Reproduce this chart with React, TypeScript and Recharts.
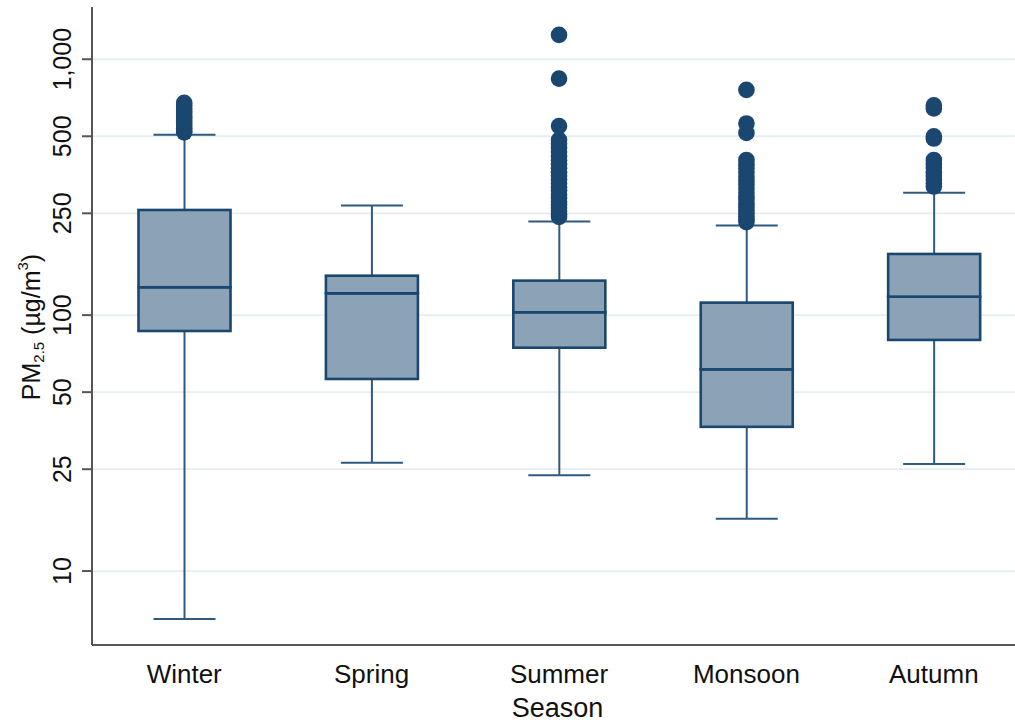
import React from 'react';
import { ComposedChart, Bar, Scatter, XAxis, YAxis, CartesianGrid, Label } from 'recharts';

// PM2.5 concentration summary by season (box plot on a log scale)
const seasons = ['Winter', 'Spring', 'Summer', 'Monsoon', 'Autumn'];
const lowerWhisker = [6.5, 26.5, 23.7, 16.0, 26.2];
const q1 = [86.7, 56.3, 74.6, 36.6, 80.0];
const median = [128.5, 121.7, 102.6, 61.4, 118.1];
const q3 = [257.6, 142.6, 136.4, 111.9, 173.4];
const upperWhisker = [507, 268, 232, 224, 301];

const winterOutliers = [518, 527, 537, 548, 560, 572, 585, 598, 612, 627, 642, 658, 675];
const springOutliers: number[] = [];
const summerOutliers = [
  242, 248, 255, 262, 270, 278, 287, 296, 306, 316, 327, 338, 350, 362, 375, 389, 403, 418, 434,
  450, 467, 484, 548, 840, 1245,
];
const monsoonOutliers = [
  231, 237, 243, 250, 257, 265, 273, 282, 291, 301, 312, 323, 335, 348, 361, 375, 389, 404, 515,
  561, 759,
];
const autumnOutliers = [318, 327, 338, 350, 362, 376, 390, 404, 490, 500, 642, 660];

const yTicks = [10, 25, 50, 100, 250, 500, 1000];
const xTicks = [1, 2, 3, 4, 5];

const NAVY = '#1A476F';
const BOX_FILL = '#8CA3B7';
const WHISKER = '#2F5A80';
const AXIS = '#555555';
const GRID = '#E6EEF0';
const FONT = '"Liberation Sans", Arial, sans-serif';

const boxRows = seasons.map((name, i) => ({
  pos: i + 1,
  name,
  lo: lowerWhisker[i],
  q1: q1[i],
  med: median[i],
  q3: q3[i],
  hi: upperWhisker[i],
}));

const outlierRows = [winterOutliers, springOutliers, summerOutliers, monsoonOutliers, autumnOutliers].flatMap(
  (list, i) => list.map((v) => ({ pos: i + 1, v })),
);

const WhiskerLow = (p: any) => {
  const { x, y, width, height } = p;
  const cx = x + width / 2;
  return (
    <g stroke={WHISKER} strokeWidth={2}>
      <line x1={cx} x2={cx} y1={y} y2={y + height} />
      <line x1={x} x2={x + width} y1={y + height} y2={y + height} />
    </g>
  );
};

const WhiskerHigh = (p: any) => {
  const { x, y, width, height } = p;
  const cx = x + width / 2;
  return (
    <g stroke={WHISKER} strokeWidth={2}>
      <line x1={cx} x2={cx} y1={y} y2={y + height} />
      <line x1={x} x2={x + width} y1={y} y2={y} />
    </g>
  );
};

const BoxHalf = (p: any) => {
  const { x, y, width, height } = p;
  return <rect x={x} y={y} width={width} height={height} fill={BOX_FILL} stroke={NAVY} strokeWidth={2.6} />;
};

const OutlierDot = (p: any) => <circle cx={p.cx} cy={p.cy} r={8.3} fill={NAVY} />;

const fmt = (v: number) => v.toLocaleString('en-US');

const YTick = (p: any) => {
  const { x, y, payload } = p;
  return (
    <text
      x={x}
      y={y}
      transform={`rotate(-90 ${x} ${y})`}
      textAnchor="middle"
      fontSize={25}
      fontFamily={FONT}
      fill="#111"
    >
      {fmt(payload.value)}
    </text>
  );
};

const XTick = (p: any) => {
  const { x, y, payload } = p;
  return (
    <text x={x} y={y + 38} textAnchor="middle" fontSize={26} fontFamily={FONT} fill="#111">
      {seasons[payload.value - 1]}
    </text>
  );
};

const SeasonTitle = (p: any) => {
  const vb = p.viewBox || { x: 0, y: 0, width: 0, height: 0 };
  return (
    <text x={vb.x + vb.width / 2 + 4} y={vb.y + 72} textAnchor="middle" fontSize={27} fontFamily={FONT} fill="#111">
      Season
    </text>
  );
};

const PmTitle = (p: any) => {
  const vb = p.viewBox || { x: 0, y: 0, width: 0, height: 0 };
  const bx = vb.x + 40;
  const cy = vb.y + vb.height / 2 + 1;
  return (
    <text
      x={bx}
      y={cy}
      transform={`rotate(-90 ${bx} ${cy})`}
      textAnchor="middle"
      fontSize={25}
      fontFamily={FONT}
      fill="#111"
    >
      <tspan>PM</tspan>
      <tspan fontSize={15} dy={4}>2.5</tspan>
      <tspan dy={-4}> (µg/m</tspan>
      <tspan fontSize={15} dy={-12}>3</tspan>
      <tspan dy={12}>)</tspan>
    </text>
  );
};

const xDomain: [number, number] = [0.508, 5.433];

export default function App() {
  return (
    <div
      style={{
        position: 'absolute',
        left: 0,
        top: 0,
        width: 1015,
        height: 727,
        background: '#fff',
        overflow: 'hidden',
      }}
    >
      <ComposedChart
        width={1015}
        height={727}
        data={boxRows}
        margin={{ top: 7, right: 0, bottom: 0, left: 0 }}
      >
        <CartesianGrid
          xAxisId="main"
          vertical={false}
          horizontalValues={yTicks}
          stroke={GRID}
          strokeWidth={1.8}
        />
        <XAxis
          xAxisId="main"
          type="number"
          dataKey="pos"
          domain={xDomain}
          ticks={xTicks}
          interval={0}
          allowDataOverflow
          height={82}
          tickLine={false}
          tickSize={0}
          tickMargin={0}
          axisLine={{ stroke: AXIS, strokeWidth: 2 }}
          tick={<XTick />}
        >
          <Label content={<SeasonTitle />} />
        </XAxis>
        <XAxis xAxisId="wl" orientation="top" height={0} type="number" dataKey="pos" domain={xDomain} allowDataOverflow hide />
        <XAxis xAxisId="wh" orientation="top" height={0} type="number" dataKey="pos" domain={xDomain} allowDataOverflow hide />
        <XAxis xAxisId="bl" orientation="top" height={0} type="number" dataKey="pos" domain={xDomain} allowDataOverflow hide />
        <XAxis xAxisId="bh" orientation="top" height={0} type="number" dataKey="pos" domain={xDomain} allowDataOverflow hide />
        <YAxis
          type="number"
          scale="log"
          domain={[5.14, 1600]}
          ticks={yTicks}
          interval={0}
          allowDataOverflow
          width={92}
          tickSize={10}
          tickMargin={11}
          tickLine={{ stroke: AXIS, strokeWidth: 2 }}
          axisLine={{ stroke: AXIS, strokeWidth: 2 }}
          tick={<YTick />}
        >
          <Label content={<PmTitle />} />
        </YAxis>
        <Bar
          xAxisId="wl"
          dataKey={(d: any) => [d.lo, d.q1]}
          barSize={62}
          shape={<WhiskerLow />}
          isAnimationActive={false}
        />
        <Bar
          xAxisId="wh"
          dataKey={(d: any) => [d.q3, d.hi]}
          barSize={62}
          shape={<WhiskerHigh />}
          isAnimationActive={false}
        />
        <Bar
          xAxisId="bl"
          dataKey={(d: any) => [d.q1, d.med]}
          barSize={92}
          shape={<BoxHalf />}
          isAnimationActive={false}
        />
        <Bar
          xAxisId="bh"
          dataKey={(d: any) => [d.med, d.q3]}
          barSize={92}
          shape={<BoxHalf />}
          isAnimationActive={false}
        />
        <Scatter
          xAxisId="main"
          data={outlierRows}
          dataKey="v"
          shape={<OutlierDot />}
          isAnimationActive={false}
        />
      </ComposedChart>
    </div>
  );
}
